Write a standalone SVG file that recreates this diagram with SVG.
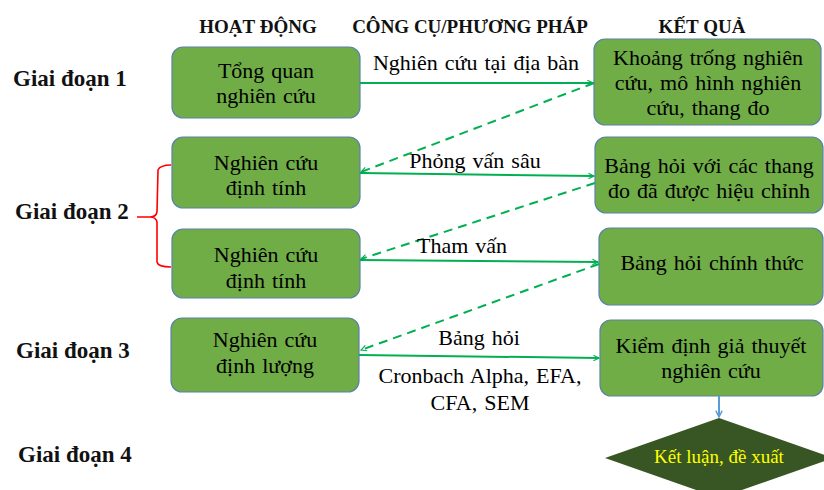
<svg xmlns="http://www.w3.org/2000/svg" width="824" height="490" viewBox="0 0 824 490">
  <defs>
    <marker id="arrowGreen" viewBox="0 0 10 10" refX="9" refY="5" markerWidth="7" markerHeight="7" orient="auto-start-reverse" markerUnits="userSpaceOnUse">
      <path d="M1,1 L9,5 L1,9" fill="none" stroke="#00B050" stroke-width="1.6"/>
    </marker>
    <marker id="arrowBlue" viewBox="0 0 10 10" refX="9" refY="5" markerWidth="8" markerHeight="8" orient="auto" markerUnits="userSpaceOnUse">
      <path d="M1,1 L9,5 L1,9" fill="none" stroke="#5B9BD5" stroke-width="1.8"/>
    </marker>
    <style>
      .box { fill: #70AD47; stroke: #5A82A8; stroke-width: 1.2; }
      .txt { font-family: "Liberation Serif", "Times New Roman", serif; font-size: 22px; word-spacing: 1.5px; fill: #000; text-anchor: middle; }
      .hdr { font-family: "Liberation Serif", "Times New Roman", serif; font-size: 19px; font-weight: bold; fill: #111; text-anchor: middle; }
      .stage { font-family: "Liberation Serif", "Times New Roman", serif; font-size: 23px; font-weight: bold; fill: #111; }
      .solid { stroke: #00B050; stroke-width: 2; fill: none; marker-end: url(#arrowGreen); }
      .dash { stroke: #00B050; stroke-width: 2; fill: none; stroke-dasharray: 9 6; marker-end: url(#arrowGreen); }
      .brace { stroke: #FF0000; stroke-width: 1.6; fill: none; }
      .final { font-family: "Liberation Serif", "Times New Roman", serif; font-size: 19px; fill: #FFFF00; text-anchor: middle; }
    </style>
  </defs>

  <rect width="824" height="490" fill="#FFFFFF"/>

  <!-- column headings -->
  <g id="headings">
    <text class="hdr" x="258" y="33">HOẠT ĐỘNG</text>
    <text class="hdr" x="470" y="33">CÔNG CỤ/PHƯƠNG PHÁP</text>
    <text class="hdr" x="702" y="33">KẾT QUẢ</text>
  </g>

  <!-- stage labels -->
  <g id="stages">
    <text class="stage" x="13" y="86">Giai đoạn 1</text>
    <text class="stage" x="15" y="219">Giai đoạn 2</text>
    <text class="stage" x="16" y="358">Giai đoạn 3</text>
    <text class="stage" x="18" y="462">Giai đoạn 4</text>
  </g>

  <!-- brace grouping the two qualitative steps -->
  <g id="brace">
    <path class="brace" d="M171,165 Q160,165 158,170 L157,212 Q156,217 150,217 L137,217 M150,217 Q156,217 157,222 L157,262 Q158,267 171,267"/>
  </g>

  <!-- activities -->
  <g id="act1">
    <rect class="box" x="172" y="47" width="188" height="71" rx="11"/>
    <text class="txt" x="266" y="78">Tổng quan</text>
    <text class="txt" x="266" y="103">nghiên cứu</text>
  </g>
  <g id="act2">
    <rect class="box" x="172" y="137" width="188" height="71" rx="11"/>
    <text class="txt" x="266" y="170">Nghiên cứu</text>
    <text class="txt" x="266" y="195">định tính</text>
  </g>
  <g id="act3">
    <rect class="box" x="172" y="229" width="188" height="69" rx="11"/>
    <text class="txt" x="266" y="262">Nghiên cứu</text>
    <text class="txt" x="266" y="288">định tính</text>
  </g>
  <g id="act4">
    <rect class="box" x="171" y="318" width="188" height="74" rx="11"/>
    <text class="txt" x="265" y="347">Nghiên cứu</text>
    <text class="txt" x="265" y="373">định lượng</text>
  </g>

  <!-- results -->
  <g id="res1">
    <rect class="box" x="594" y="39" width="227" height="86" rx="11"/>
    <text class="txt" x="708" y="65">Khoảng trống nghiên</text>
    <text class="txt" x="708" y="90">cứu, mô hình nghiên</text>
    <text class="txt" x="708" y="115">cứu, thang đo</text>
  </g>
  <g id="res2">
    <rect class="box" x="595" y="137" width="228" height="76" rx="11"/>
    <text class="txt" x="709" y="173">Bảng hỏi với các thang</text>
    <text class="txt" x="709" y="198">đo đã được hiệu chỉnh</text>
  </g>
  <g id="res3">
    <rect class="box" x="599" y="228" width="224" height="77" rx="11"/>
    <text class="txt" x="712" y="270">Bảng hỏi chính thức</text>
  </g>
  <g id="res4">
    <rect class="box" x="600" y="320" width="223" height="76" rx="11"/>
    <text class="txt" x="711" y="353">Kiểm định giả thuyết</text>
    <text class="txt" x="711" y="378">nghiên cứu</text>
  </g>

  <!-- conclusion -->
  <g id="conclusion">
    <polygon points="719,418 833,458 719,498 605,458" fill="#375623"/>
    <text class="final" x="719" y="463">Kết luận, đề xuất</text>
  </g>

  <!-- connectors -->
  <g id="connectors">
    <path class="solid" d="M360,83 L593,83"/>
    <path class="dash" d="M594,83 L361,172"/>
    <path class="solid" d="M360,173 L594,176"/>
    <path class="dash" d="M595,183 L361,259"/>
    <path class="solid" d="M360,260 L598,262"/>
    <path class="dash" d="M599,264 L361,350"/>
    <path class="solid" d="M359,355 L599,358"/>
    <path d="M719,396 L719,417" stroke="#5B9BD5" stroke-width="2" fill="none" marker-end="url(#arrowBlue)"/>
  </g>

  <!-- connector labels -->
  <g id="connector-labels">
    <text class="txt" x="476" y="70">Nghiên cứu tại địa bàn</text>
    <text class="txt" x="475" y="168">Phỏng vấn sâu</text>
    <text class="txt" x="462" y="253">Tham vấn</text>
    <text class="txt" x="479" y="345">Bảng hỏi</text>
    <text class="txt" x="480" y="383">Cronbach Alpha, EFA,</text>
    <text class="txt" x="480" y="410">CFA, SEM</text>
  </g>
</svg>
